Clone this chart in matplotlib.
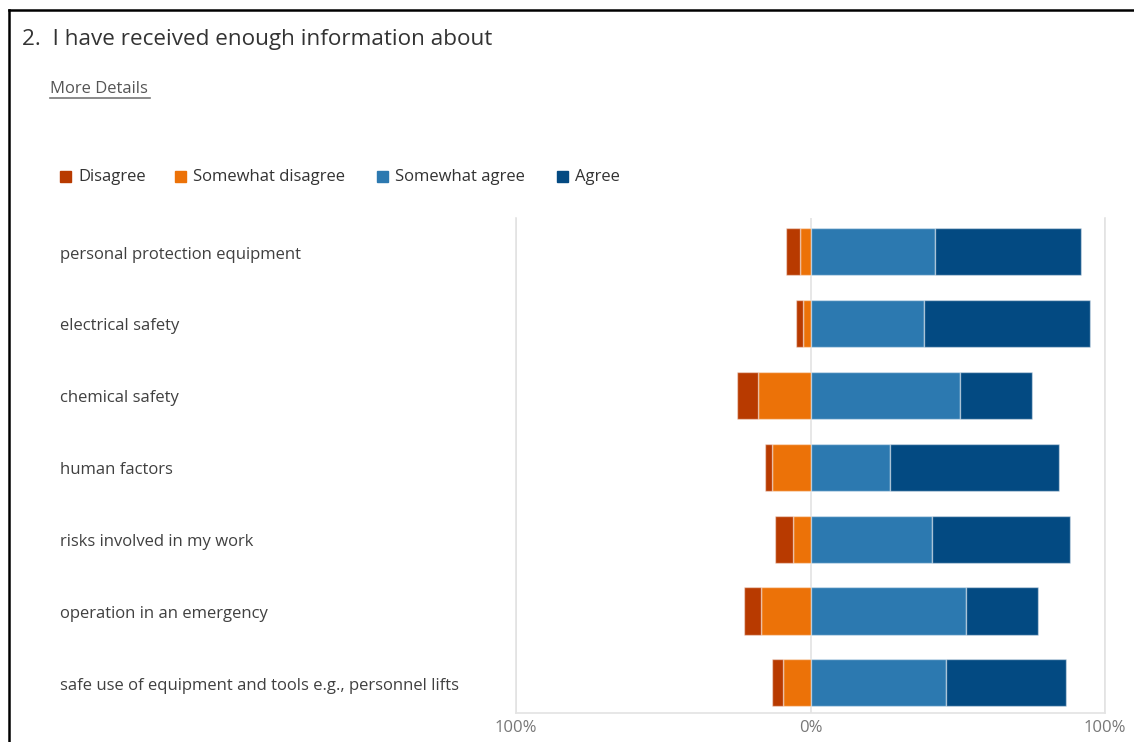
import numpy as np
import matplotlib.pyplot as plt
from matplotlib.patches import Rectangle
from matplotlib.lines import Line2D

plt.rcParams['font.family'] = ['Open Sans', 'DejaVu Sans']

# Data (percent of responses)
topics = [
    "personal protection equipment",
    "electrical safety",
    "chemical safety",
    "human factors",
    "risks involved in my work",
    "operation in an emergency",
    "safe use of equipment and tools e.g., personnel lifts",
]
disagree = [4.7, 2.4, 7.1, 2.5, 6.0, 5.9, 3.6]
somewhat_disagree = [3.6, 2.6, 17.8, 13.0, 6.0, 16.7, 9.5]
somewhat_agree = [42.4, 38.7, 50.8, 27.1, 41.2, 52.9, 45.9]
agree = [49.3, 56.3, 24.3, 57.4, 46.8, 24.5, 41.0]

labels = ["Disagree", "Somewhat disagree", "Somewhat agree", "Agree"]
colors = ["#B83A00", "#EC7208", "#2C79B0", "#034A82"]

W, H = 1134, 742
fig = plt.figure(figsize=(W / 100, H / 100), dpi=100)

# outer frame (left + top edges only visible)
fig.add_artist(Line2D([9 / W, 9 / W], [0, 1 - 10 / H], color="black", lw=1.8))
fig.add_artist(Line2D([9 / W, 1], [1 - 10 / H, 1 - 10 / H], color="black", lw=1.8))

fig.text(22 / W, 1 - 40 / H, "2.  I have received enough information about",
         fontsize=16.2, color="#333333", va="center", ha="left")
fig.text(50 / W, 1 - 89 / H, "More Details", fontsize=12, color="#555555",
         va="center", ha="left")
fig.add_artist(Line2D([50 / W, 150 / W], [1 - 98 / H, 1 - 98 / H], color="#777777", lw=1.2))

# legend
leg_x = [60, 175, 377, 557]
for lx, lab, c in zip(leg_x, labels, colors):
    fig.add_artist(Rectangle((lx / W, 1 - 182 / H), 11 / W, 11 / H,
                             transform=fig.transFigure, color=c))
    fig.text((lx + 18) / W, 1 - 177 / H, lab, fontsize=12, color="#333333",
             va="center", ha="left")

ax = fig.add_axes([516 / W, 1 - 713 / H, (1105 - 516) / W, (713 - 218) / H])

y = np.arange(len(topics))
d = np.array(disagree)
sd = np.array(somewhat_disagree)
sa = np.array(somewhat_agree)
a = np.array(agree)

edge = (1, 1, 1, 0.45)
h = 0.655
ax.barh(y, -sd, left=0, height=h, color=colors[1], edgecolor=edge, lw=1, zorder=3)
ax.barh(y, -d, left=-sd, height=h, color=colors[0], edgecolor=edge, lw=1, zorder=3)
ax.barh(y, sa, left=0, height=h, color=colors[2], edgecolor=edge, lw=1, zorder=3)
ax.barh(y, a, left=sa, height=h, color=colors[3], edgecolor=edge, lw=1, zorder=3)

ax.set_xlim(-100, 100)
ax.set_ylim(6.42, -0.47)
ax.set_xticks([-100, 0, 100])
ax.set_xticklabels(["100%", "0%", "100%"], fontsize=12, color="#777777")
ax.tick_params(axis="x", length=0, pad=5)
ax.set_yticks(y)
ax.set_yticklabels([])
ax.tick_params(axis="y", length=0)
for yi, t in zip(y, topics):
    ax.annotate(t, xy=(60 / W, yi), xycoords=("figure fraction", "data"),
                xytext=(0, -2), textcoords="offset points",
                fontsize=12, color="#404040", va="center", ha="left")

ax.grid(axis="x", color="#e3e3e3", lw=1.2, zorder=0)
for s in ["top"]:
    ax.spines[s].set_visible(False)
for s in ["left", "right", "bottom"]:
    ax.spines[s].set_color("#e3e3e3")
    ax.spines[s].set_linewidth(1.2)

fig.savefig("out.png", dpi=100)
